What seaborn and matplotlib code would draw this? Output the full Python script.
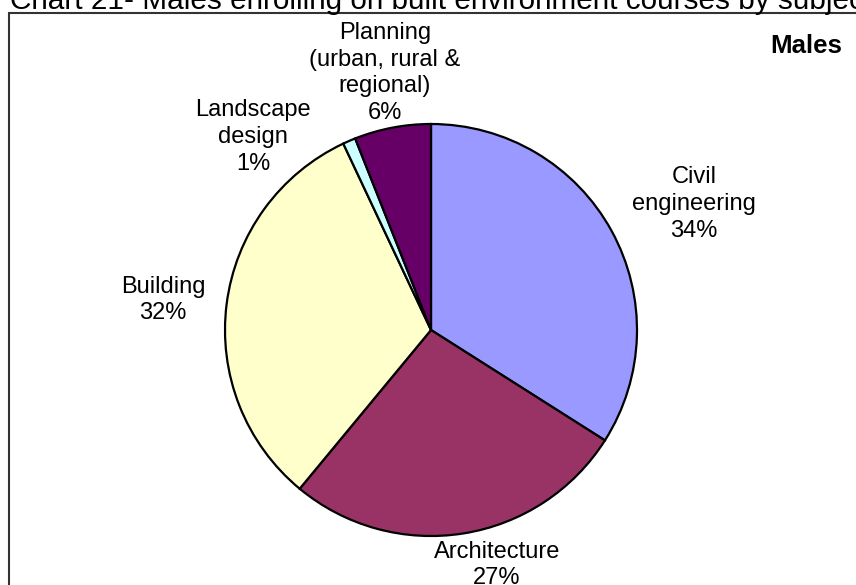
import matplotlib
matplotlib.use("Agg")
import matplotlib.pyplot as plt
import seaborn as sns
from matplotlib.patches import Rectangle

# ---- data ----
categories = ["Civil\nengineering", "Architecture", "Building",
              "Landscape\ndesign", "Planning\n(urban, rural &\nregional)"]
values = [34, 27, 32, 1, 6]
colors = ["#9999FF", "#993366", "#FFFFCC", "#CCFFFF", "#660066"]
title = "Chart 21- Males enrolling on built environment courses by subject"
panel_label = "Males"

sns.set_theme(style="white")
plt.rcParams['font.family'] = ['Liberation Sans', 'DejaVu Sans']

W, H = 856, 585
fig = plt.figure(figsize=(W / 100, H / 100), dpi=100)
ax = fig.add_axes([0, 0, 1, 1])
ax.set_xlim(0, W)
ax.set_ylim(0, H)

def py(y):
    return H - y

palette = sns.color_palette(colors)
wedges, _ = ax.pie(values, colors=palette, startangle=90, counterclock=False,
                   center=(431, py(330)), radius=206, frame=True,
                   wedgeprops=dict(edgecolor="black", linewidth=1.6))
ax.set_xlim(0, W)
ax.set_ylim(0, H)
ax.set_aspect("auto")
ax.axis("off")

# frame around chart area
ax.add_patch(Rectangle((9.5, -20), 900, py(12.5) + 20, fill=False,
                       edgecolor="#333333", linewidth=1.5, clip_on=False))

# title (cut off at top)
ax.text(10, py(9), title, ha="left", va="baseline", fontsize=21.4, color="black")

# panel label
ax.text(806, py(46), panel_label, ha="center", va="center", fontsize=18.6,
        fontweight="bold", color="black")

# slice labels
label_pos = [(694, 204), (497, 565), (163, 300), (253, 137), (385, 73)]
for cat, v, (x, y) in zip(categories, values, label_pos):
    ax.text(x, py(y), f"{cat}\n{v}%", ha="center", va="center", fontsize=17,
            linespacing=1.27, color="black")

fig.savefig("out.png", dpi=100)
